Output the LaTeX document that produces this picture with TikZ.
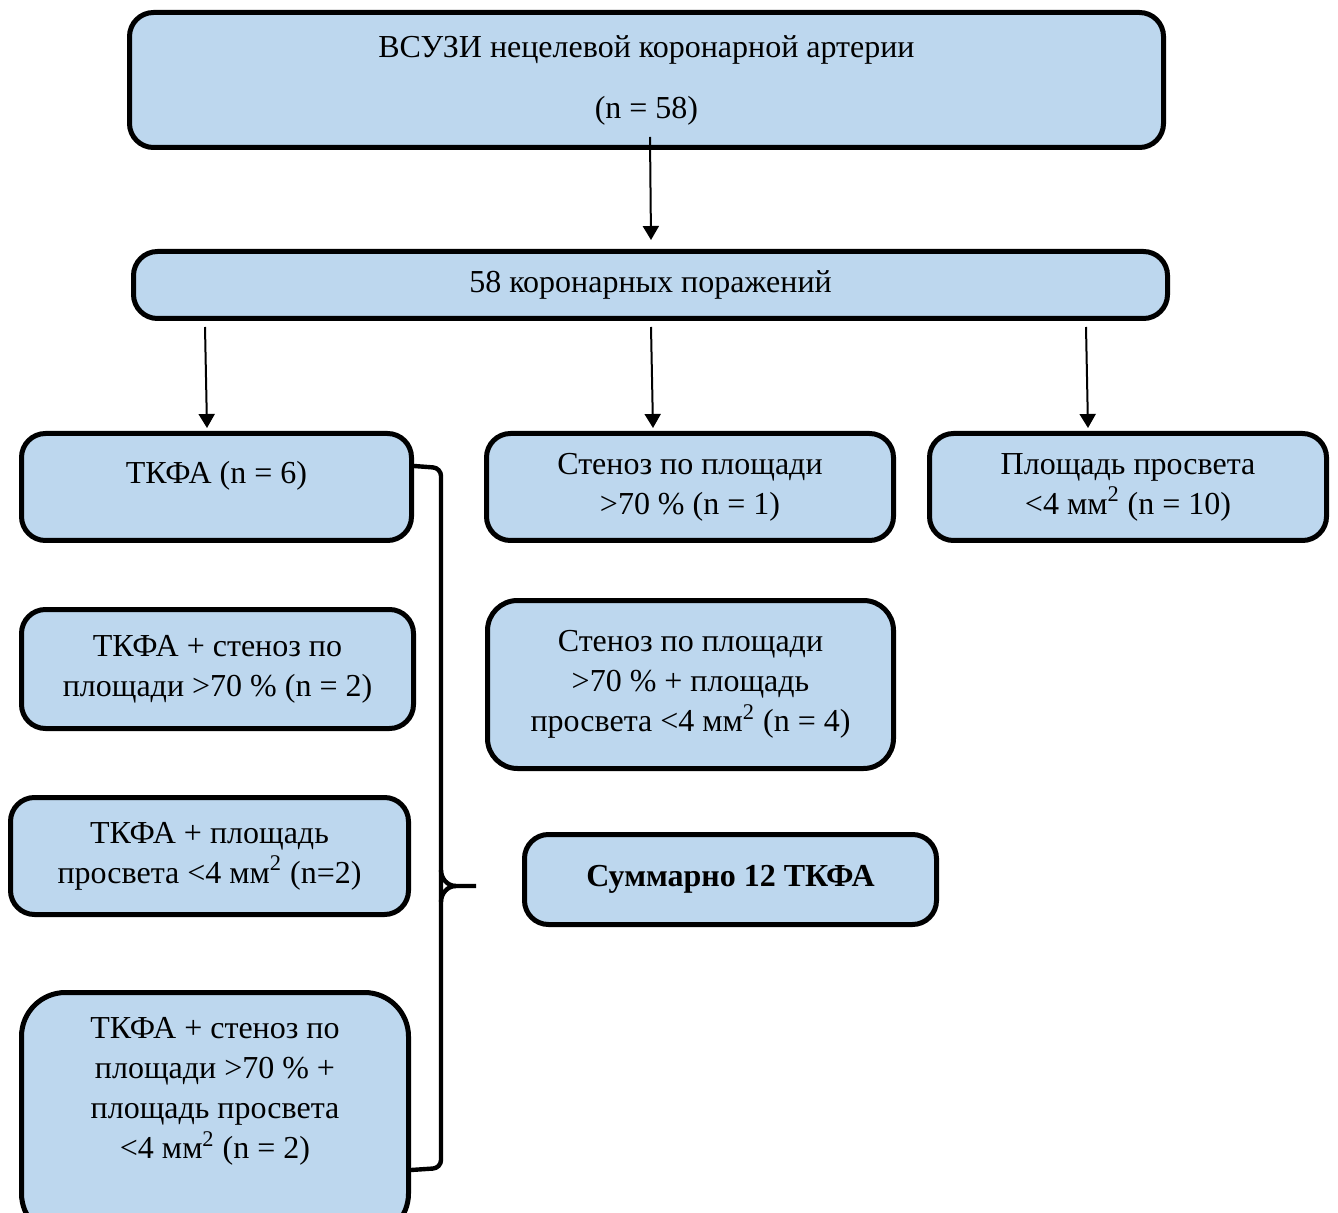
\documentclass[tikz,border=0pt]{standalone}
\usepackage{fontspec}
\setmainfont{Liberation Serif}
\definecolor{boxfill}{RGB}{189,215,238}
\usetikzlibrary{
	arrows.meta,
	positioning
}
\tikzset{
	>={Triangle[width=8pt,length=7pt]},
	flowbox/.style={draw, line width=2.5pt, fill=boxfill, rounded corners=12pt, inner sep=0pt, align=center, font=\fontsize{16}{20}\selectfont},
	boxtext/.style={inner sep=0pt, align=center, font=\fontsize{16}{20}\selectfont},
	flowarrow/.style={->, line width=1pt},
	bracket/.style={line width=2.2pt, rounded corners=4pt}
}

\begin{document}
\begin{tikzpicture}[x=0.5pt, y=-0.5pt]
	\useasboundingbox (0,0) rectangle (1338,1213);
	% top of the scheme
	\node[flowbox, minimum width=517pt, minimum height=67.5pt] (ivus) at (646.5,80)
		{ВСУЗИ нецелевой коронарной артерии\\[10.5pt](n = 58)};
	\node[flowbox, minimum width=517pt, minimum height=33.5pt] (lesions) at (650.5,285)
		{58 коронарных поражений};
	\draw[flowarrow] ([xshift=1.75pt,yshift=6.5pt]ivus.south) -- ([xshift=0.25pt,yshift=4.5pt]lesions.north);
	% three criteria
	\node[flowbox, minimum width=195pt, minimum height=53.5pt] (tkfa) at (216.5,487) {};
	\node[boxtext] (tkfa-t) at ([yshift=5.5pt]tkfa.center) {ТКФА (n = 6)};
	\node[flowbox, minimum width=203.5pt, minimum height=53.5pt] (stenosis) at (690,487)
		{Стеноз по площади\\>70 \% (n = 1)};
	\node[flowbox, minimum width=198.5pt, minimum height=53.5pt] (lumen) at (1128,487)
		{Площадь просвета\\<4 мм\textsuperscript{2} (n = 10)};
	\foreach \from/\to/\target in {205/207/tkfa, 651/653/stenosis, 1086/1088/lumen} {
		\draw[flowarrow] ([yshift=-3pt]lesions.south -| \from,0) -- ([yshift=1.5pt]\target.north -| \to,0);
	}
	% combinations
	\node[flowbox, minimum width=196pt, minimum height=59.5pt] (tkfasten) at (217.5,669)
		{ТКФА + стеноз по\\площади >70 \% (n = 2)};
	\node[flowbox, rounded corners=15pt, minimum width=203pt, minimum height=84pt] (stenlumen) at (690.5,684.5)
		{Стеноз по площади\\>70 \% + площадь\\просвета <4 мм\textsuperscript{2} (n = 4)};
	\node[flowbox, minimum width=199pt, minimum height=58.5pt] (tkfalumen) at (209.5,856)
		{ТКФА + площадь\\просвета <4 мм\textsuperscript{2} (n=2)};
	\node[flowbox, minimum width=206pt, minimum height=45pt] (total) at (730.5,879.5)
		{\bfseries Суммарно 12 ТКФА};
	\node[flowbox, rounded corners=22pt, minimum width=193.5pt, minimum height=122.5pt] (tkfaall) at (215,1115) {};
	\node[boxtext] (tkfaall-t) at ([yshift=11.75pt]tkfaall.center)
		{ТКФА + стеноз по\\площади >70 \% +\\площадь просвета\\<4 мм\textsuperscript{2} (n = 2)};
	% brace
	\coordinate (tip) at (476,886);
	\draw[bracket] ([yshift=10.5pt]tkfa.east) -- (441,468) -- (441,1168) -- ([yshift=-27.5pt]tkfaall.east);
	\draw[line width=2.2pt] (441,870) to[out=-90, in=180] (456,886) -- (tip);
	\draw[line width=2.2pt] (441,902) to[out=90, in=180] (456,886);
\end{tikzpicture}
\end{document}
